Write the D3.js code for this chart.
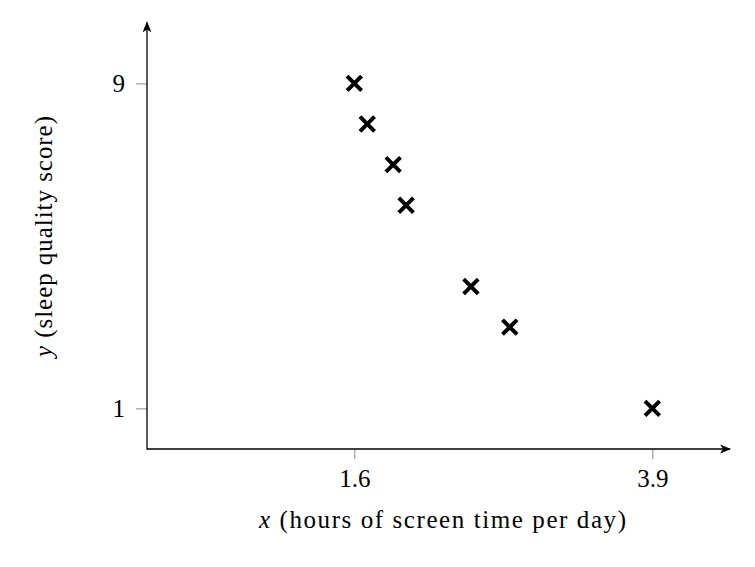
<!DOCTYPE html>
<html>
<head>
<meta charset="utf-8">
<script src="https://cdn.jsdelivr.net/npm/d3@7"></script>
<style>
  html, body { margin: 0; padding: 0; background: #fff; }
  svg { display: block; }
  text { font-family: "Liberation Serif", "Times New Roman", serif; fill: #000; }
</style>
</head>
<body>
<svg id="chart" width="755" height="567"></svg>
<script>
// Data
const screenHours = [1.6, 1.7, 1.9, 2.0, 2.5, 2.8, 3.9];
const sleepScores = [9, 8, 7, 6, 4, 3, 1];
const xTickValues = [1.6, 3.9];
const yTickValues = [1, 9];
const xTickLabels = ["1.6", "3.9"];
const yTickLabels = ["1", "9"];
const xLabelVar = "x";
const xLabelText = " (hours of screen time per day)";
const yLabelVar = "y";
const yLabelText = " (sleep quality score)";

const svg = d3.select("#chart");
const x0 = 147, y0 = 449;
const FS = 25;

const x = d3.scaleLinear().domain([0, 4.5]).range([x0, x0 + 4.5 * (653 - 355) / 2.3]);
const y = d3.scaleLinear().domain([0, 10.5]).range([y0, y0 - 10.5 * (408 - 83) / 8]);

const defs = svg.append("defs");
defs.append("marker")
  .attr("id", "arrow")
  .attr("viewBox", "0 0 10 10")
  .attr("refX", 9).attr("refY", 5)
  .attr("markerWidth", 11).attr("markerHeight", 11)
  .attr("markerUnits", "userSpaceOnUse")
  .attr("orient", "auto")
  .append("path")
  .attr("d", "M0,1 L10,5 L0,9 L2.5,5 Z")
  .attr("fill", "#000");

// Ticks (gray, outside)
const xAxis = d3.axisBottom(x).tickValues(xTickValues).tickSize(10).tickFormat((d, i) => xTickLabels[i]);
const gx = svg.append("g").attr("transform", `translate(0,${y0})`).call(xAxis);
gx.select(".domain").remove();
gx.selectAll(".tick line").attr("stroke", "#888").attr("stroke-width", 1);
gx.selectAll(".tick text").attr("font-size", FS).attr("y", 38).attr("dy", 0)
  .style("font-family", "Liberation Serif");

const yAxis = d3.axisLeft(y).tickValues(yTickValues).tickSize(11).tickFormat((d, i) => yTickLabels[i]);
const gy = svg.append("g").attr("transform", `translate(${x0},0)`).call(yAxis);
gy.select(".domain").remove();
gy.selectAll(".tick line").attr("stroke", "#888").attr("stroke-width", 1);
gy.selectAll(".tick text").attr("font-size", FS).attr("x", -22).attr("dy", "0.34em")
  .style("font-family", "Liberation Serif");

// Axis lines with arrows
svg.append("line")
  .attr("x1", x(0)).attr("y1", y(0)).attr("x2", x(4.5)).attr("y2", y(0))
  .attr("stroke", "#000").attr("stroke-width", 1.3).attr("marker-end", "url(#arrow)");
svg.append("line")
  .attr("x1", x(0)).attr("y1", y(0) + 0.6).attr("x2", x(0)).attr("y2", y(10.5))
  .attr("stroke", "#000").attr("stroke-width", 1.3).attr("marker-end", "url(#arrow)");

// Points as crosses
const s = 7.3;
svg.append("g").selectAll("path").data(screenHours.map((h, i) => [h, sleepScores[i]]))
  .join("path")
  .attr("d", d => {
    const cx = x(d[0]), cy = y(d[1]);
    return `M${cx - s},${cy - s}L${cx + s},${cy + s}M${cx - s},${cy + s}L${cx + s},${cy - s}`;
  })
  .attr("stroke", "#000").attr("stroke-width", 4).attr("fill", "none");

// Axis labels
const xl = svg.append("text").attr("x", 442.5).attr("y", 528).attr("text-anchor", "middle")
  .attr("font-size", FS).attr("textLength", 367).attr("lengthAdjust", "spacing");
xl.append("tspan").attr("font-style", "italic").text(xLabelVar);
xl.append("tspan").text(xLabelText);

const yl = svg.append("text").attr("transform", "translate(52,236.5) rotate(-90)").attr("text-anchor", "middle")
  .attr("font-size", FS).attr("textLength", 241).attr("lengthAdjust", "spacing");
yl.append("tspan").attr("font-style", "italic").text(yLabelVar);
yl.append("tspan").text(yLabelText);
</script>
</body>
</html>
